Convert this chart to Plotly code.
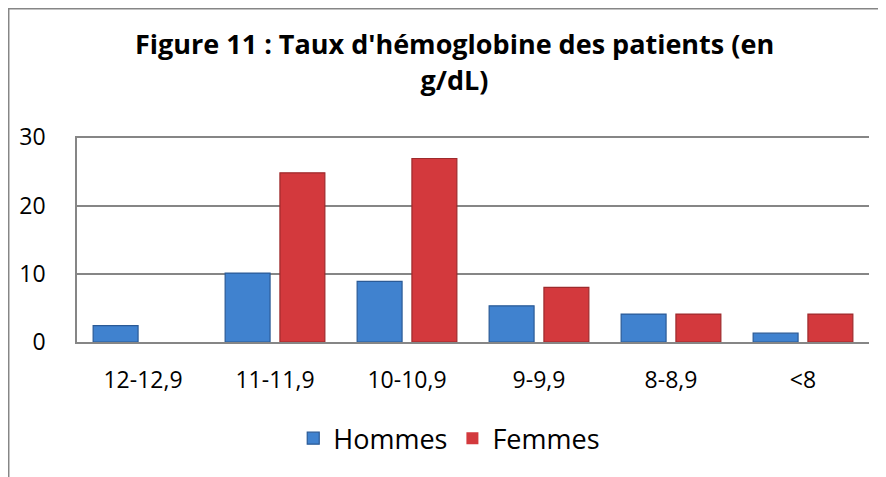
import plotly.graph_objects as go

categories = ["12-12,9", "11-11,9", "10-10,9", "9-9,9", "8-8,9", "<8"]
hommes = [2.4, 10.1, 8.9, 5.3, 4.1, 1.3]
femmes = [0, 24.8, 26.9, 8.0, 4.1, 4.1]
y_ticks = [0, 10, 20, 30]

title_text = "Figure 11 : Taux d'hémoglobine des patients (en<br>g/dL)"
FONT = "Open Sans"

fig = go.Figure()
fig.add_trace(go.Bar(
    name="Hommes", x=categories, y=hommes,
    marker=dict(color="#4082CF", line=dict(color="#2A5A96", width=1.2)),
))
fig.add_trace(go.Bar(
    name="Femmes", x=categories, y=femmes,
    marker=dict(color="#D3393D",
                line=dict(color="#9E2A2C", width=[0 if v == 0 else 1.2 for v in femmes])),
))

fig.update_layout(
    width=878, height=469,
    margin=dict(l=69, r=17, t=128, b=135, autoexpand=False),
    paper_bgcolor="white", plot_bgcolor="white",
    barmode="group", bargap=0.17, bargroupgap=0.18,
    font=dict(family=FONT, color="#000000"),
    title=dict(text=title_text, x=0.4767, xanchor="center", xref="paper",
               y=0.901, yanchor="top",
               font=dict(family=FONT, size=27, color="#000000", weight="bold")),
    legend=dict(orientation="h", x=0.47, xanchor="center", y=-0.35, yanchor="top",
                font=dict(family=FONT, size=27, color="#000000"),
                itemwidth=30, traceorder="normal"),
    showlegend=True,
)
fig.update_xaxes(
    showline=True, linecolor="#868686", linewidth=1.5, automargin=False,
    showgrid=False, ticks="", tickfont=dict(size=23, family=FONT),
    ticklabelstandoff=17,
)
fig.update_yaxes(
    range=[0, 30.2], tickvals=y_ticks, automargin=False,
    showline=True, linecolor="#868686", linewidth=1.5,
    showgrid=True, gridcolor="#868686", gridwidth=1.5,
    zeroline=False, ticks="", tickfont=dict(size=23, family=FONT),
    ticklabelstandoff=25,
)
# outer chart border (left and top visible)
fig.add_shape(type="rect", xref="paper", yref="paper",
              x0=-0.0862, x1=1.03, y0=-0.8, y1=1.6177,
              line=dict(color="#868686", width=1.5), fillcolor="rgba(0,0,0,0)", layer="above")

fig.write_html("out.html")
